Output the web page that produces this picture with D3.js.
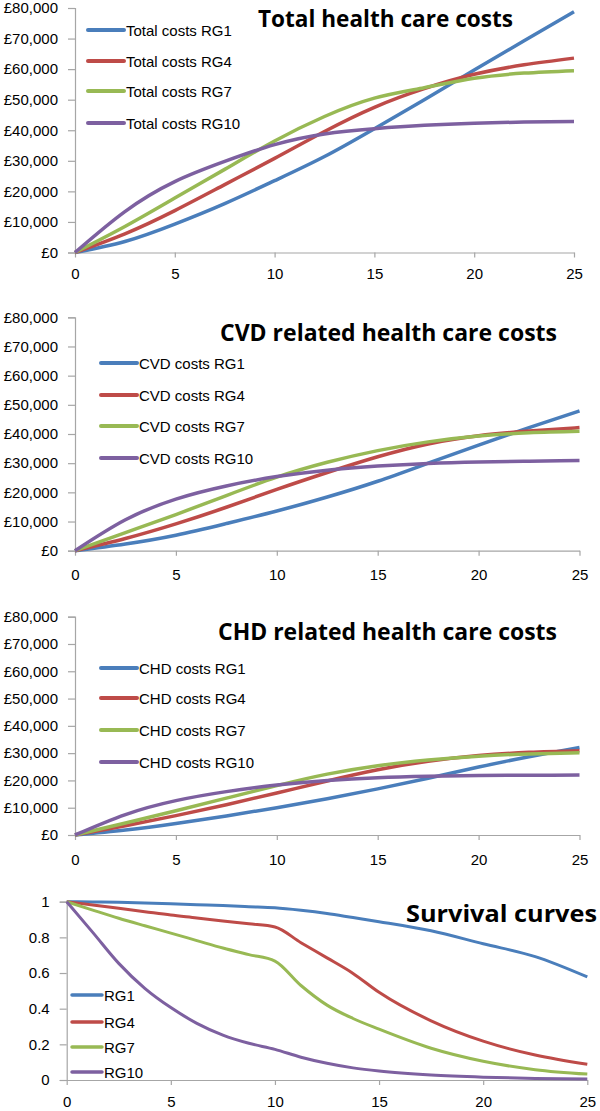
<!DOCTYPE html>
<html>
<head>
<meta charset="utf-8">
<script src="https://cdn.jsdelivr.net/npm/d3@7"></script>
<style>
  html, body { margin: 0; padding: 0; background: #fff; }
  svg { display: block; }
</style>
</head>
<body>
<svg id="chart" width="600" height="1111"></svg>
<script>
// ---------- DATA ----------
const rgNames = ["RG1", "RG4", "RG7", "RG10"];
const costYears = [0, 2.5, 5, 7.5, 10, 12.5, 15, 17.5, 20, 22.5, 25];
const costTicksY = [0, 10000, 20000, 30000, 40000, 50000, 60000, 70000, 80000];
const yearTicks = [0, 5, 10, 15, 20, 25];

const totalRG1  = [0, 3600, 9300, 16000, 23500, 31400, 40500, 50000, 59700, 69300, 78800];
const totalRG4  = [0, 6100, 13700, 22200, 30800, 39600, 47500, 53600, 58300, 61400, 63600];
const totalRG7  = [0, 8500, 17800, 27200, 36500, 44500, 50500, 53900, 57000, 58700, 59500];
const totalRG10 = [0, 13400, 23200, 29800, 35300, 38800, 40500, 41600, 42300, 42700, 42900];

const cvdRG1  = [0, 2300, 5300, 9300, 13600, 18400, 23800, 30000, 36200, 42200, 47900];
const cvdRG4  = [0, 4200, 9200, 14900, 21000, 26800, 32200, 36600, 39400, 41000, 42200];
const cvdRG7  = [0, 6200, 12400, 18900, 25200, 30300, 34300, 37300, 39300, 40400, 40900];
const cvdRG10 = [0, 10600, 17700, 22200, 25400, 27600, 29000, 29900, 30400, 30700, 30900];

const chdRG1  = [0, 1800, 4200, 7000, 10000, 13300, 16900, 20800, 24900, 28700, 32100];
const chdRG4  = [0, 3400, 7100, 11100, 15400, 19800, 23900, 27000, 29100, 30300, 30900];
const chdRG7  = [0, 4400, 8900, 13500, 18100, 22300, 25400, 27500, 28900, 29700, 30100];
const chdRG10 = [0, 7500, 12600, 15900, 18300, 20000, 21000, 21500, 21800, 21900, 22000];

const survYears = [0, 1.25, 2.5, 3.75, 5, 6.25, 7.5, 8.75, 10, 11.25, 12.5, 13.75, 15, 17.5, 20, 22.5, 25];
const survTicksY = [0, 0.2, 0.4, 0.6, 0.8, 1];
const survRG1  = [1, 0.999, 0.997, 0.993, 0.988, 0.983, 0.978, 0.972, 0.966, 0.952, 0.934, 0.911, 0.888, 0.837, 0.764, 0.692, 0.578];
const survRG4  = [1, 0.982, 0.963, 0.944, 0.925, 0.909, 0.892, 0.876, 0.858, 0.770, 0.685, 0.598, 0.492, 0.332, 0.218, 0.140, 0.088];
const survRG7  = [1, 0.953, 0.907, 0.865, 0.824, 0.782, 0.740, 0.703, 0.667, 0.530, 0.420, 0.345, 0.285, 0.178, 0.105, 0.058, 0.033];
const survRG10 = [1, 0.828, 0.654, 0.514, 0.406, 0.318, 0.252, 0.206, 0.172, 0.128, 0.094, 0.068, 0.050, 0.028, 0.016, 0.009, 0.005];

const titles = ["Total health care costs", "CVD related health care costs", "CHD related health care costs", "Survival curves"];
const legendPrefixes = ["Total costs ", "CVD costs ", "CHD costs ", ""];

// ---------- STYLE / LAYOUT ----------
const colors = ["#4A7EBB", "#BE4B48", "#98B954", "#7D60A0"];
const axisColor = "#A6A6A6";
const labelFont = "'Liberation Sans', Arial, sans-serif";
const titleFont = "'Open Sans', 'DejaVu Sans', sans-serif";

const panels = [
  { xs: costYears, series: [totalRG1, totalRG4, totalRG7, totalRG10], yTicks: costTicksY, yMax: 80000, money: true,
    x0: 75, x1: 574, yBot: 252.5, yTop: 8, xLabY: 279, curve: d3.curveNatural,
    titleX: 258, titleY: 27, titleW: 255,
    legX: 88, legLen: 36, legRows: [30, 61, 91, 123], lw: 3.5 },
  { xs: costYears, series: [cvdRG1, cvdRG4, cvdRG7, cvdRG10], yTicks: costTicksY, yMax: 80000, money: true,
    x0: 75, x1: 579.5, yBot: 550.7, yTop: 317.3, xLabY: 580, curve: d3.curveNatural,
    titleX: 220, titleY: 341, titleW: 337,
    legX: 101, legLen: 36, legRows: [363, 395, 426, 458], lw: 3.5 },
  { xs: costYears, series: [chdRG1, chdRG4, chdRG7, chdRG10], yTicks: costTicksY, yMax: 80000, money: true,
    x0: 75, x1: 579.5, yBot: 835, yTop: 616.7, xLabY: 865, curve: d3.curveNatural,
    titleX: 218, titleY: 640, titleW: 339,
    legX: 101, legLen: 36, legRows: [668, 698, 730, 762], lw: 3.5 },
  { xs: survYears, series: [survRG1, survRG4, survRG7, survRG10], yTicks: survTicksY, yMax: 1, money: false,
    x0: 66.7, x1: 587.3, yBot: 1080, yTop: 901.7, xLabY: 1107, curve: d3.curveMonotoneX,
    titleX: 406, titleY: 922, titleW: 191,
    legX: 72, legLen: 30, legRows: [995, 1022, 1047, 1072], lw: 3 }
];

const svg = d3.select("#chart");
const moneyFmt = d => d === 0 ? "£0" : "£" + d3.format(",")(d);

panels.forEach((p, pi) => {
  const g = svg.append("g");
  const x = d3.scaleLinear().domain([0, 25]).range([p.x0, p.x1]);
  const y = d3.scaleLinear().domain([0, p.yMax]).range([p.yBot, p.yTop]);

  // y axis
  const yAxis = d3.axisLeft(y).tickValues(p.yTicks).tickSize(7).tickPadding(10)
    .tickFormat(p.money ? moneyFmt : d3.format("~g"));
  const ya = g.append("g").attr("transform", `translate(${p.x0},0)`).call(yAxis);
  // x axis
  const xAxis = d3.axisBottom(x).tickValues(yearTicks).tickSize(5).tickSizeOuter(0).tickFormat(d3.format("d"));
  const xa = g.append("g").attr("transform", `translate(0,${p.yBot})`).call(xAxis);
  [ya, xa].forEach(a => {
    a.select(".domain").attr("stroke", axisColor).attr("stroke-width", 1.2);
    a.selectAll(".tick line").attr("stroke", axisColor).attr("stroke-width", 1.2);
    a.selectAll("text").attr("fill", "#000").attr("font-family", labelFont).attr("font-size", 15);
  });
  xa.selectAll("text").attr("y", p.xLabY - p.yBot).attr("dy", 0);

  // lines
  const line = d3.line().x((d, i) => x(p.xs[i])).y(d => y(d)).curve(p.curve);
  p.series.forEach((s, si) => {
    g.append("path").datum(s).attr("d", line)
      .attr("fill", "none").attr("stroke", colors[si]).attr("stroke-width", p.lw)
      .attr("stroke-linejoin", "round").attr("stroke-linecap", "butt");
  });

  // legend
  rgNames.forEach((n, si) => {
    const ry = p.legRows[si];
    g.append("line").attr("x1", p.legX).attr("x2", p.legX + p.legLen).attr("y1", ry).attr("y2", ry)
      .attr("stroke", colors[si]).attr("stroke-width", p.lw + 0.5).attr("stroke-linecap", "round");
    g.append("text").attr("x", p.legX + p.legLen + 2).attr("y", ry + 5.5)
      .attr("font-family", labelFont).attr("font-size", 15).attr("fill", "#000")
      .text(legendPrefixes[pi] + n);
  });

  // title
  g.append("text").attr("x", p.titleX).attr("y", p.titleY)
    .attr("font-family", titleFont).attr("font-weight", 700).attr("font-size", 24)
    .attr("fill", "#000").attr("textLength", p.titleW).attr("lengthAdjust", "spacingAndGlyphs")
    .text(titles[pi]);
});
</script>
</body>
</html>
